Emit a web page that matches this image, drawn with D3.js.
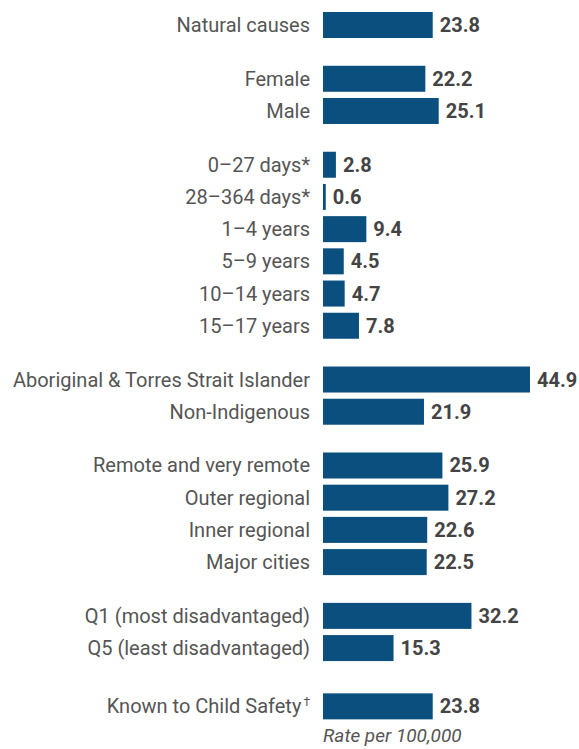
<!DOCTYPE html>
<html>
<head>
<meta charset="utf-8">
<script src="https://cdn.jsdelivr.net/npm/d3@7"></script>
<style>
  body { margin: 0; background: #fff; }
  text { font-family: Roboto, "Liberation Sans", sans-serif; }
</style>
</head>
<body>
<div id="chart"></div>
<script>
// categories, grouped as in the source chart
var groups = [
  ["Natural causes"],
  ["Female", "Male"],
  ["0\u201327 days*", "28\u2013364 days*", "1\u20134 years", "5\u20139 years", "10\u201314 years", "15\u201317 years"],
  ["Aboriginal & Torres Strait Islander", "Non-Indigenous"],
  ["Remote and very remote", "Outer regional", "Inner regional", "Major cities"],
  ["Q1 (most disadvantaged)", "Q5 (least disadvantaged)"],
  ["Known to Child Safety\u2020"]
];
// rate per 100,000
var values = [
  [23.8],
  [22.2, 25.1],
  [2.8, 0.6, 9.4, 4.5, 4.7, 7.8],
  [44.9, 21.9],
  [25.9, 27.2, 22.6, 22.5],
  [32.2, 15.3],
  [23.8]
];
var axisNote = "Rate per 100,000";

function init(){
  var w = 579, h = 749;
  var barLeft = 323;
  var pitch = 32.2;     // row spacing
  var gap = 0.67;       // extra rows between groups
  var barH = 26;

  // flatten with slot positions
  var dataset = [];
  var slot = 0;
  groups.forEach(function(g, gi){
    if (gi > 0) slot += gap + (gi == groups.length - 1 ? 0.14 : 0);
    g.forEach(function(name, i){
      dataset.push({ label: name, value: values[gi][i], slot: slot });
      slot += 1;
    });
  });

  var svg = d3.select("#chart")
    .append("svg")
    .attr("width", w)
    .attr("height", h);

  var xScale = d3.scaleLinear()
    .domain([0, 44.9])
    .range([barLeft, 530]);

  var yScale = d3.scaleLinear()
    .domain([0, 1])
    .range([25, 25 + pitch]);

  var rows = svg.selectAll("g.row")
    .data(dataset)
    .enter()
    .append("g")
    .attr("class", "row")
    .attr("transform", function(d){ return "translate(0," + yScale(d.slot) + ")"; });

  rows.append("rect")
    .attr("x", xScale(0))
    .attr("y", -barH / 2)
    .attr("width", function(d){ return xScale(d.value) - xScale(0); })
    .attr("height", barH)
    .attr("fill", "#0a4f7d");

  // category labels, dagger drawn as a small superscript
  var labels = rows.append("text")
    .attr("x", 310)
    .attr("dy", "0.35em")
    .attr("text-anchor", "end")
    .attr("fill", "#555")
    .style("font-size", "20px");

  labels.append("tspan")
    .text(function(d){ return d.label.replace("\u2020", ""); });

  labels.filter(function(d){ return d.label.indexOf("\u2020") >= 0; })
    .append("tspan")
    .attr("dx", 2)
    .attr("dy", -7)
    .style("font-size", "12px")
    .text("\u2020");

  rows.append("text")
    .attr("x", function(d){ return xScale(d.value) + 7; })
    .attr("dy", "0.35em")
    .attr("fill", "#444")
    .style("font-size", "20px")
    .style("font-weight", "bold")
    .text(function(d){ return d3.format(".1f")(d.value); });

  svg.append("text")
    .attr("x", barLeft)
    .attr("y", 742)
    .attr("fill", "#555")
    .style("font-size", "19px")
    .style("font-style", "italic")
    .text(axisNote);
}

window.onload = init;
</script>
</body>
</html>
